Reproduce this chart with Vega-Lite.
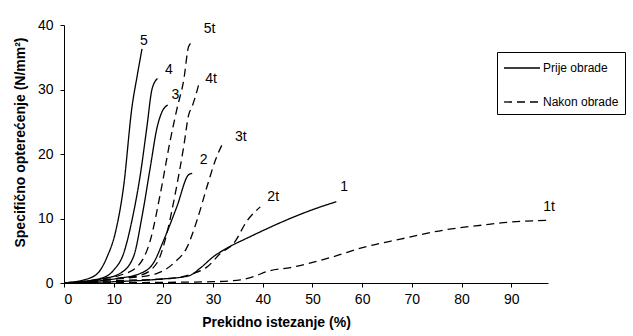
{
  "$schema": "https://vega.github.io/schema/vega-lite/v6.json",
  "autosize": {"type": "none"},
  "padding": {"left": 64, "top": 25, "right": 85, "bottom": 53},
  "width": 484,
  "height": 258,
  "background": "white",
  "config": {
    "font": "Liberation Sans",
    "view": {"stroke": null},
    "axis": {"domainColor": "black", "tickColor": "black", "labelColor": "black", "titleColor": "black", "grid": false, "labelFontSize": 14, "titleFontSize": 14, "titleFontWeight": "bold", "tickSize": 4, "domainWidth": 1, "tickWidth": 1}
  },
  "datasets": {
    "curves": [
      {"c": "5", "t": "Prije obrade", "x": 0, "y": 0},
      {"c": "5", "t": "Prije obrade", "x": 5.3, "y": 0.8},
      {"c": "5", "t": "Prije obrade", "x": 7.3, "y": 2.0},
      {"c": "5", "t": "Prije obrade", "x": 8.7, "y": 4.1},
      {"c": "5", "t": "Prije obrade", "x": 10.3, "y": 7.7},
      {"c": "5", "t": "Prije obrade", "x": 12.0, "y": 15.0},
      {"c": "5", "t": "Prije obrade", "x": 13.7, "y": 27.4},
      {"c": "5", "t": "Prije obrade", "x": 14.7, "y": 32.0},
      {"c": "5", "t": "Prije obrade", "x": 15.7, "y": 36.3},
      {"c": "4", "t": "Prije obrade", "x": 0, "y": 0},
      {"c": "4", "t": "Prije obrade", "x": 7.3, "y": 0.7},
      {"c": "4", "t": "Prije obrade", "x": 10.0, "y": 2.0},
      {"c": "4", "t": "Prije obrade", "x": 12.0, "y": 4.6},
      {"c": "4", "t": "Prije obrade", "x": 13.7, "y": 9.8},
      {"c": "4", "t": "Prije obrade", "x": 15.4, "y": 17.0},
      {"c": "4", "t": "Prije obrade", "x": 16.7, "y": 24.3},
      {"c": "4", "t": "Prije obrade", "x": 17.7, "y": 30.0},
      {"c": "4", "t": "Prije obrade", "x": 18.8, "y": 31.7},
      {"c": "3", "t": "Prije obrade", "x": 0, "y": 0},
      {"c": "3", "t": "Prije obrade", "x": 8.0, "y": 0.7},
      {"c": "3", "t": "Prije obrade", "x": 11.3, "y": 1.5},
      {"c": "3", "t": "Prije obrade", "x": 14.0, "y": 4.1},
      {"c": "3", "t": "Prije obrade", "x": 15.7, "y": 10.3},
      {"c": "3", "t": "Prije obrade", "x": 17.4, "y": 18.1},
      {"c": "3", "t": "Prije obrade", "x": 18.7, "y": 24.0},
      {"c": "3", "t": "Prije obrade", "x": 19.7, "y": 26.5},
      {"c": "3", "t": "Prije obrade", "x": 20.9, "y": 27.6},
      {"c": "2", "t": "Prije obrade", "x": 0, "y": 0},
      {"c": "2", "t": "Prije obrade", "x": 10.7, "y": 0.7},
      {"c": "2", "t": "Prije obrade", "x": 15.4, "y": 1.5},
      {"c": "2", "t": "Prije obrade", "x": 18.0, "y": 3.1},
      {"c": "2", "t": "Prije obrade", "x": 20.1, "y": 6.7},
      {"c": "2", "t": "Prije obrade", "x": 22.7, "y": 11.8},
      {"c": "2", "t": "Prije obrade", "x": 25.1, "y": 16.8},
      {"c": "2", "t": "Prije obrade", "x": 25.8, "y": 17.0},
      {"c": "1", "t": "Prije obrade", "x": 0, "y": 0},
      {"c": "1", "t": "Prije obrade", "x": 10, "y": 0.2},
      {"c": "1", "t": "Prije obrade", "x": 19.4, "y": 0.6},
      {"c": "1", "t": "Prije obrade", "x": 25.1, "y": 1.1},
      {"c": "1", "t": "Prije obrade", "x": 27.4, "y": 2.3},
      {"c": "1", "t": "Prije obrade", "x": 30.1, "y": 4.1},
      {"c": "1", "t": "Prije obrade", "x": 32.1, "y": 5.1},
      {"c": "1", "t": "Prije obrade", "x": 37.5, "y": 7.2},
      {"c": "1", "t": "Prije obrade", "x": 51.6, "y": 11.8},
      {"c": "1", "t": "Prije obrade", "x": 54.8, "y": 12.6},
      {"c": "5t", "t": "Nakon obrade", "x": 0, "y": 0},
      {"c": "5t", "t": "Nakon obrade", "x": 7.3, "y": 0.6},
      {"c": "5t", "t": "Nakon obrade", "x": 11.3, "y": 1.2},
      {"c": "5t", "t": "Nakon obrade", "x": 14.7, "y": 2.5},
      {"c": "5t", "t": "Nakon obrade", "x": 17.4, "y": 6.7},
      {"c": "5t", "t": "Nakon obrade", "x": 19.4, "y": 13.9},
      {"c": "5t", "t": "Nakon obrade", "x": 21.4, "y": 22.2},
      {"c": "5t", "t": "Nakon obrade", "x": 22.7, "y": 26.9},
      {"c": "5t", "t": "Nakon obrade", "x": 24.1, "y": 31.5},
      {"c": "5t", "t": "Nakon obrade", "x": 25.1, "y": 36.7},
      {"c": "5t", "t": "Nakon obrade", "x": 25.8, "y": 37.3},
      {"c": "4t", "t": "Nakon obrade", "x": 0, "y": 0},
      {"c": "4t", "t": "Nakon obrade", "x": 10.7, "y": 0.7},
      {"c": "4t", "t": "Nakon obrade", "x": 15.4, "y": 1.2},
      {"c": "4t", "t": "Nakon obrade", "x": 18.7, "y": 3.1},
      {"c": "4t", "t": "Nakon obrade", "x": 20.7, "y": 7.7},
      {"c": "4t", "t": "Nakon obrade", "x": 22.4, "y": 13.9},
      {"c": "4t", "t": "Nakon obrade", "x": 24.1, "y": 21.2},
      {"c": "4t", "t": "Nakon obrade", "x": 25.1, "y": 26.1},
      {"c": "4t", "t": "Nakon obrade", "x": 25.8, "y": 27.4},
      {"c": "4t", "t": "Nakon obrade", "x": 27.3, "y": 31.3},
      {"c": "3t", "t": "Nakon obrade", "x": 0, "y": 0},
      {"c": "3t", "t": "Nakon obrade", "x": 11.3, "y": 0.7},
      {"c": "3t", "t": "Nakon obrade", "x": 17.4, "y": 1.2},
      {"c": "3t", "t": "Nakon obrade", "x": 22.1, "y": 3.1},
      {"c": "3t", "t": "Nakon obrade", "x": 24.8, "y": 5.6},
      {"c": "3t", "t": "Nakon obrade", "x": 26.8, "y": 9.8},
      {"c": "3t", "t": "Nakon obrade", "x": 28.8, "y": 15.0},
      {"c": "3t", "t": "Nakon obrade", "x": 30.5, "y": 19.1},
      {"c": "3t", "t": "Nakon obrade", "x": 31.9, "y": 21.6},
      {"c": "2t", "t": "Nakon obrade", "x": 0, "y": 0},
      {"c": "2t", "t": "Nakon obrade", "x": 12, "y": 0.4},
      {"c": "2t", "t": "Nakon obrade", "x": 21.4, "y": 0.7},
      {"c": "2t", "t": "Nakon obrade", "x": 26.1, "y": 1.5},
      {"c": "2t", "t": "Nakon obrade", "x": 28.8, "y": 2.5},
      {"c": "2t", "t": "Nakon obrade", "x": 31.5, "y": 4.6},
      {"c": "2t", "t": "Nakon obrade", "x": 34.2, "y": 6.2},
      {"c": "2t", "t": "Nakon obrade", "x": 36.8, "y": 9.6},
      {"c": "2t", "t": "Nakon obrade", "x": 39.5, "y": 11.8},
      {"c": "1t", "t": "Nakon obrade", "x": 0, "y": 0},
      {"c": "1t", "t": "Nakon obrade", "x": 20, "y": 0.1},
      {"c": "1t", "t": "Nakon obrade", "x": 30, "y": 0.2},
      {"c": "1t", "t": "Nakon obrade", "x": 35.5, "y": 0.5},
      {"c": "1t", "t": "Nakon obrade", "x": 38.2, "y": 1.0},
      {"c": "1t", "t": "Nakon obrade", "x": 40.9, "y": 1.8},
      {"c": "1t", "t": "Nakon obrade", "x": 45.6, "y": 2.4},
      {"c": "1t", "t": "Nakon obrade", "x": 54.3, "y": 4.1},
      {"c": "1t", "t": "Nakon obrade", "x": 59.7, "y": 5.4},
      {"c": "1t", "t": "Nakon obrade", "x": 67.7, "y": 6.8},
      {"c": "1t", "t": "Nakon obrade", "x": 76.4, "y": 8.2},
      {"c": "1t", "t": "Nakon obrade", "x": 84.5, "y": 9.0},
      {"c": "1t", "t": "Nakon obrade", "x": 89.2, "y": 9.4},
      {"c": "1t", "t": "Nakon obrade", "x": 97.2, "y": 9.7}
    ],
    "labels": [
      {"label": "5", "x": 16.1, "y": 37.5},
      {"label": "5t", "x": 29.3, "y": 39.4},
      {"label": "4", "x": 21.1, "y": 33.1},
      {"label": "4t", "x": 29.6, "y": 31.6},
      {"label": "3", "x": 22.4, "y": 29.1},
      {"label": "3t", "x": 35.6, "y": 22.7},
      {"label": "2", "x": 28.1, "y": 19.0},
      {"label": "2t", "x": 42.1, "y": 13.3},
      {"label": "1", "x": 56.4, "y": 14.9},
      {"label": "1t", "x": 97.6, "y": 11.8}
    ]
  },
  "layer": [
    {
      "data": {"name": "curves"},
      "mark": {"type": "line", "color": "black", "strokeWidth": 1.3, "clip": false, "interpolate": "monotone"},
      "encoding": {
        "x": {"field": "x", "type": "quantitative", "scale": {"domain": [0, 97.4], "nice": false, "zero": false},
          "axis": {"title": "Prekidno istezanje (%)", "values": [0,5,10,15,20,25,30,35,40,45,50,55,60,65,70,75,80,85,90,95],
            "labelExpr": "datum.value % 10 == 0 ? datum.label : ''", "titleX": 212, "titleY": 39, "titleBaseline": "middle", "labelPadding": 5}},
        "y": {"field": "y", "type": "quantitative", "scale": {"domain": [0, 40], "nice": false},
          "axis": {"title": "Specifično opterećenje (N/mm²)", "values": [0,5,10,15,20,25,30,35,40], "titleX": -44, "titleY": 117, "titleAlign": "center", "titleBaseline": "middle", "titleAngle": -90, "labelPadding": 7}},
        "detail": {"field": "c"},
        "order": {"field": "x", "type": "quantitative"},
        "strokeDash": {"field": "t", "type": "nominal",
          "scale": {"domain": ["Prije obrade", "Nakon obrade"], "range": [[1, 0], [8, 5]]},
          "legend": {"title": null, "orient": "none", "legendX": 433, "legendY": 27, "strokeColor": "black", "fillColor": "white",
            "padding": 6, "labelFontSize": 12, "labelColor": "black", "symbolType": "M-1,0H3", "symbolSize": 324, "symbolStrokeColor": "black", "symbolStrokeWidth": 1.3, "rowPadding": 18, "labelOffset": 20}}
      }
    },
    {
      "data": {"name": "labels"},
      "mark": {"type": "text", "fontSize": 14, "color": "black", "clip": false},
      "encoding": {
        "x": {"field": "x", "type": "quantitative"},
        "y": {"field": "y", "type": "quantitative"},
        "text": {"field": "label"}
      }
    }
  ]
}
